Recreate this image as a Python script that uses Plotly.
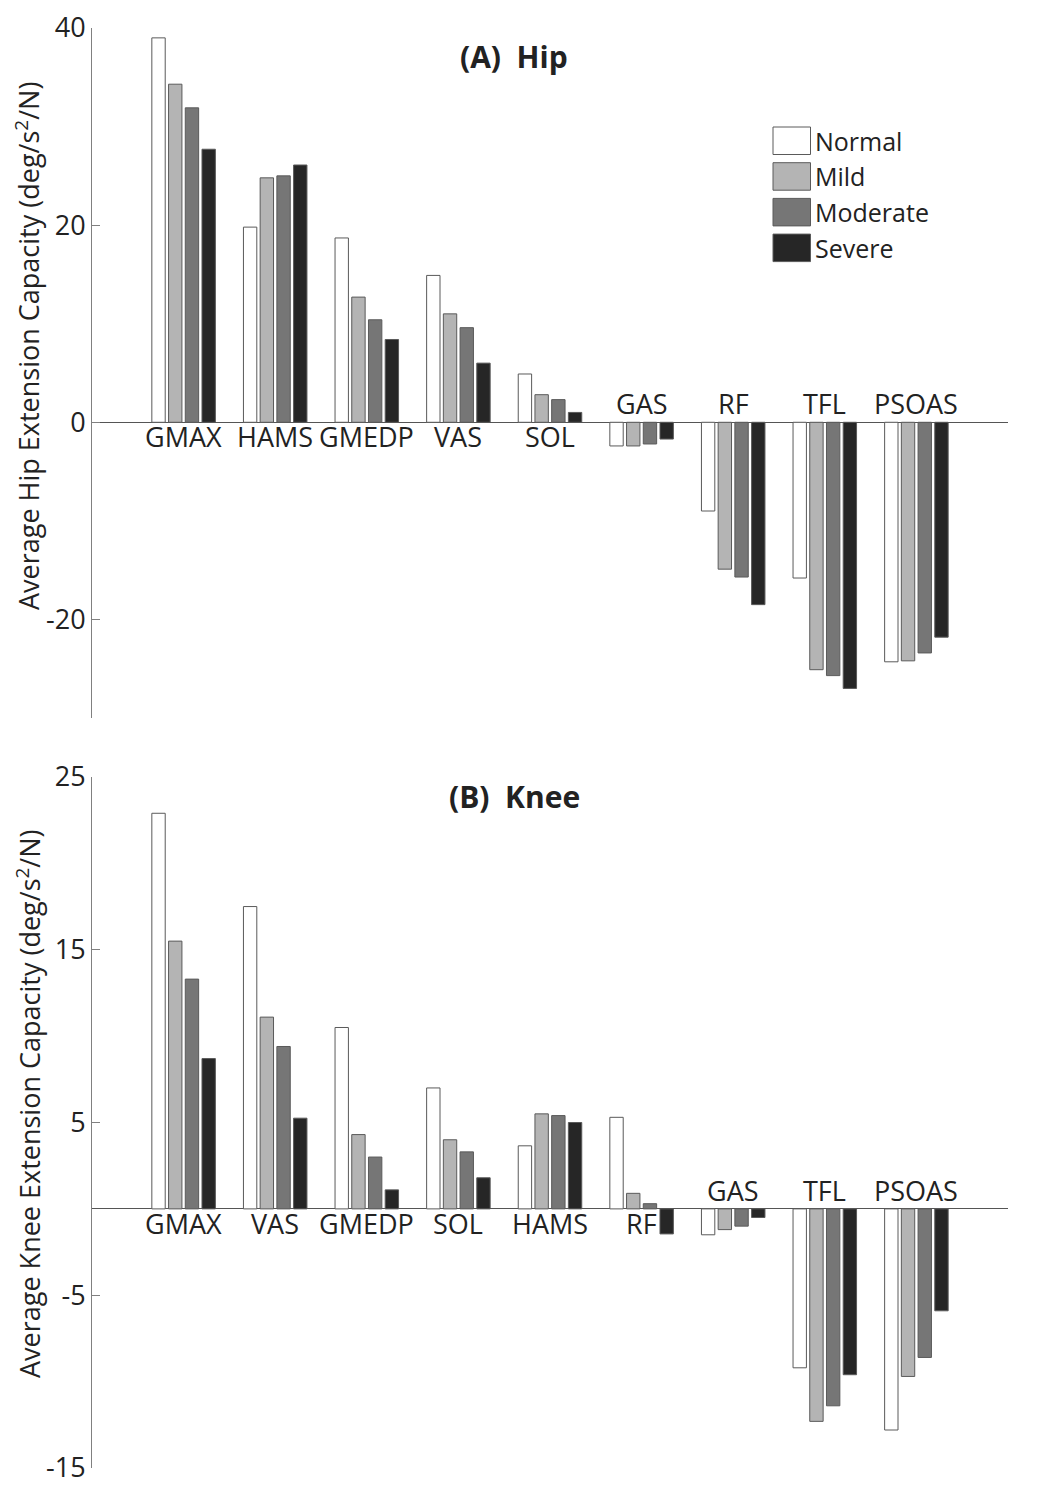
import plotly.graph_objects as go

# ---- data ----
series_names = ["Normal", "Mild", "Moderate", "Severe"]
series_colors = ["#ffffff", "#b4b4b4", "#767676", "#262626"]

hip_muscles = ["GMAX", "HAMS", "GMEDP", "VAS", "SOL", "GAS", "RF", "TFL", "PSOAS"]
hip_normal = [39.0, 19.8, 18.7, 14.9, 4.9, -2.4, -9.0, -15.8, -24.3]
hip_mild = [34.3, 24.8, 12.7, 11.0, 2.8, -2.4, -14.9, -25.1, -24.2]
hip_moderate = [31.9, 25.0, 10.4, 9.6, 2.3, -2.2, -15.7, -25.7, -23.4]
hip_severe = [27.7, 26.1, 8.4, 6.0, 1.0, -1.7, -18.5, -27.0, -21.8]

knee_muscles = ["GMAX", "VAS", "GMEDP", "SOL", "HAMS", "RF", "GAS", "TFL", "PSOAS"]
knee_normal = [22.9, 17.5, 10.5, 7.0, 3.65, 5.3, -1.5, -9.2, -12.8]
knee_mild = [15.5, 11.1, 4.3, 4.0, 5.5, 0.9, -1.2, -12.3, -9.7]
knee_moderate = [13.3, 9.4, 3.0, 3.3, 5.4, 0.3, -1.0, -11.4, -8.6]
knee_severe = [8.7, 5.25, 1.1, 1.8, 5.0, -1.45, -0.5, -9.6, -5.9]

hip_ticks = [-30, -20, 0, 20, 40]
hip_ticktext = ["", "-20", "0", "20", "40"]
knee_ticks = [-15, -5, 5, 15, 25]
knee_ticktext = ["-15", "-5", "5", "15", "25"]

hip_title = "Average Hip Extension Capacity (deg/s<sup>2</sup>/N)"
knee_title = "Average Knee Extension Capacity (deg/s<sup>2</sup>/N)"
hip_panel = "<b>(A)\u00a0\u00a0Hip</b>"
knee_panel = "<b>(B)\u00a0\u00a0Knee</b>"

W, H = 1050, 1497
OFF = 8  # browser body margin
FONT = "Open Sans"
TXT = "#222222"
AX = "#808080"

def px_x(p):
    return (p - OFF) / W

def px_y(p):
    return 1 - (p - OFF) / H

fig = go.Figure()

hip_series = [hip_normal, hip_mild, hip_moderate, hip_severe]
knee_series = [knee_normal, knee_mild, knee_moderate, knee_severe]
hip_pos = list(range(1, len(hip_muscles) + 1))
knee_pos = list(range(1, len(knee_muscles) + 1))

for name, col, vals in zip(series_names, series_colors, hip_series):
    fig.add_trace(go.Bar(x=hip_pos, y=vals, name=name, marker=dict(color=col, line=dict(color="#5a5a5a", width=1)),
                         xaxis="x", yaxis="y", showlegend=False))
for name, col, vals in zip(series_names, series_colors, knee_series):
    fig.add_trace(go.Bar(x=knee_pos, y=vals, name=name, marker=dict(color=col, line=dict(color="#5a5a5a", width=1)),
                         xaxis="x2", yaxis="y2", showlegend=False))

annotations = []
for muscles, series, pos, xr, yr in [(hip_muscles, hip_series, hip_pos, "x", "y"),
                                     (knee_muscles, knee_series, knee_pos, "x2", "y2")]:
    for i, m in enumerate(muscles):
        mean = sum(s[i] for s in series) / len(series)
        below = mean > 0
        annotations.append(dict(x=pos[i], y=0, xref=xr, yref=yr, text=m, showarrow=False,
                                yanchor="top" if below else "bottom", yshift=6 if below else -2,
                                font=dict(family=FONT, size=27, color=TXT)))

xdom = [px_x(92), px_x(1008)]
top_dom = [px_y(718), px_y(28)]
bot_dom = [px_y(1468), px_y(777)]

axis_common_y = dict(showline=True, linecolor=AX, linewidth=1, ticks="inside", ticklen=8, tickcolor=AX,
                     tickwidth=1, showgrid=False, zeroline=True, zerolinecolor="#555555", zerolinewidth=1,
                     tickfont=dict(family=FONT, size=27, color=TXT), tickmode="array", automargin=False)
axis_common_x = dict(showline=False, showticklabels=False, ticks="", showgrid=False, zeroline=False,
                     range=[0, 10], domain=xdom, automargin=False)

# y titles and panel titles
annotations.append(dict(x=px_x(28), y=px_y(346), xref="paper", yref="paper", text=hip_title, textangle=-90,
                        showarrow=False, xanchor="center", yanchor="middle",
                        font=dict(family=FONT, size=27, color=TXT)))
annotations.append(dict(x=px_x(28), y=px_y(1104), xref="paper", yref="paper", text=knee_title, textangle=-90,
                        showarrow=False, xanchor="center", yanchor="middle",
                        font=dict(family=FONT, size=27, color=TXT)))
annotations.append(dict(x=px_x(514), y=px_y(56), xref="paper", yref="paper", text=hip_panel, showarrow=False,
                        xanchor="center", yanchor="middle", font=dict(family=FONT, size=30, color=TXT)))
annotations.append(dict(x=px_x(514), y=px_y(796), xref="paper", yref="paper", text=knee_panel, showarrow=False,
                        xanchor="center", yanchor="middle", font=dict(family=FONT, size=30, color=TXT)))

# legend (drawn manually)
shapes = []
box_top = 127
box_h = 27.5
box_step = 35.7
for k, (name, col) in enumerate(zip(series_names, series_colors)):
    t = box_top + k * box_step
    shapes.append(dict(type="rect", xref="paper", yref="paper", x0=px_x(773), x1=px_x(810.5),
                       y0=px_y(t + box_h), y1=px_y(t), fillcolor=col, line=dict(color="#5a5a5a", width=1)))
    annotations.append(dict(x=px_x(813), y=px_y(t + box_h / 2), xref="paper", yref="paper", text=name,
                            showarrow=False, xanchor="left", yanchor="middle",
                            font=dict(family=FONT, size=25, color=TXT)))

fig.update_layout(
    width=W, height=H,
    margin=dict(l=0, r=0, t=0, b=0, autoexpand=False),
    paper_bgcolor="white", plot_bgcolor="white",
    barmode="group", bargap=0.27, bargroupgap=0.2,
    xaxis=dict(**axis_common_x, anchor="y"),
    xaxis2=dict(**axis_common_x, anchor="y2"),
    yaxis=dict(**axis_common_y, range=[-30, 40], tickvals=hip_ticks, ticktext=hip_ticktext,
               domain=top_dom, anchor="x"),
    yaxis2=dict(**axis_common_y, range=[-15, 25], tickvals=knee_ticks, ticktext=knee_ticktext,
                domain=bot_dom, anchor="x2"),
    annotations=annotations,
    shapes=shapes,
    showlegend=False,
)

fig.write_html("out.html")
